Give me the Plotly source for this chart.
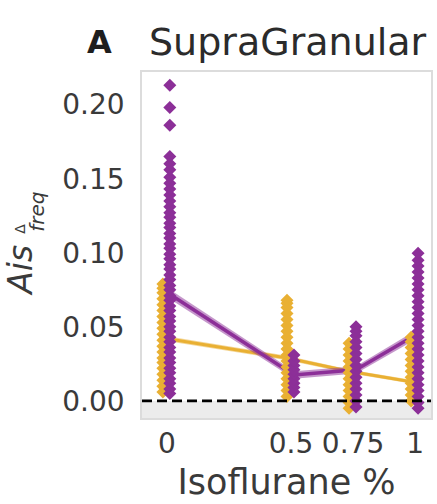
import plotly.graph_objects as go

# ---- data ----
iso_levels = [0, 0.5, 0.75, 1]
tick_text = ["0", "0.5", "0.75", "1"]
y_ticks = [0.0, 0.05, 0.10, 0.15, 0.20]
y_tick_text = ["0.00", "0.05", "0.10", "0.15", "0.20"]

# yellow series: individual values per isoflurane level
yellow_0 = [0.006, 0.010, 0.014, 0.018, 0.022, 0.026, 0.029, 0.033, 0.037, 0.041,
            0.045, 0.049, 0.053, 0.057, 0.061, 0.065, 0.069, 0.073, 0.076, 0.079]
yellow_05 = [0.003, 0.007, 0.011, 0.015, 0.019, 0.023, 0.027, 0.031, 0.035, 0.039,
             0.043, 0.047, 0.051, 0.055, 0.059, 0.063, 0.066, 0.068]
yellow_075 = [-0.005, -0.001, 0.003, 0.007, 0.011, 0.015, 0.019, 0.023, 0.027,
              0.031, 0.035, 0.039]
yellow_1 = [0.000, 0.004, 0.008, 0.012, 0.016, 0.020, 0.024, 0.028, 0.032, 0.036,
            0.040, 0.043]

# purple series
purple_0 = [0.005, 0.008, 0.012, 0.015, 0.019, 0.022, 0.026, 0.029, 0.033, 0.036,
            0.040, 0.043, 0.047, 0.050, 0.054, 0.057, 0.061, 0.064, 0.068, 0.071,
            0.075, 0.078, 0.082, 0.085, 0.089, 0.092, 0.096, 0.099, 0.103, 0.106,
            0.110, 0.113, 0.117, 0.120, 0.124, 0.127, 0.131, 0.135, 0.139, 0.143,
            0.147, 0.151, 0.156, 0.160, 0.165, 0.186, 0.198, 0.213]
purple_05 = [0.006, 0.009, 0.012, 0.015, 0.018, 0.021, 0.024, 0.027, 0.031]
purple_075 = [-0.004, 0.000, 0.004, 0.008, 0.012, 0.016, 0.020, 0.024, 0.028,
              0.032, 0.036, 0.040, 0.044, 0.047, 0.050]
purple_1 = [-0.005, -0.001, 0.003, 0.007, 0.011, 0.015, 0.019, 0.023, 0.027,
            0.031, 0.035, 0.039, 0.043, 0.047, 0.051, 0.055, 0.059, 0.063, 0.067,
            0.071, 0.075, 0.079, 0.083, 0.087, 0.091, 0.095, 0.0997]

# mean lines and confidence bands
yellow_mean = [0.0425, 0.029, 0.020, 0.013]
yellow_lo = [0.0408, 0.0275, 0.0187, 0.0117]
yellow_hi = [0.0442, 0.0305, 0.0213, 0.0143]
purple_mean = [0.072, 0.0175, 0.021, 0.0455]
purple_lo = [0.0688, 0.0150, 0.0185, 0.0425]
purple_hi = [0.0752, 0.0200, 0.0235, 0.0485]

YEL = "#E9B033"
PUR = "#8C2F98"
yellow_dx = -0.016
purple_dx = 0.012

fig = go.Figure()

# grey band under zero
fig.add_shape(type="rect", xref="paper", x0=0, x1=1, yref="y", y0=-0.0115, y1=0,
              fillcolor="#ececec", line_width=0, layer="below")


def band(mean, lo, hi, color, rgba, dx, lw):
    xs = [v + dx for v in iso_levels]
    fig.add_trace(go.Scatter(x=xs, y=hi, mode="lines", line=dict(width=0),
                             showlegend=False, hoverinfo="skip"))
    fig.add_trace(go.Scatter(x=xs, y=lo, mode="lines", line=dict(width=0),
                             fill="tonexty", fillcolor=rgba,
                             showlegend=False, hoverinfo="skip"))
    fig.add_trace(go.Scatter(x=xs, y=mean, mode="lines",
                             line=dict(color=color, width=lw), showlegend=False))


band(yellow_mean, yellow_lo, yellow_hi, YEL, "rgba(233,176,51,0.5)", yellow_dx, 3)
band(purple_mean, purple_lo, purple_hi, PUR, "rgba(140,47,152,0.5)", purple_dx, 3.5)


def strip(vals, level, dx, color):
    fig.add_trace(go.Scatter(x=[level + dx] * len(vals), y=vals, mode="markers",
                             marker=dict(symbol="diamond", size=10, color=color,
                                         line=dict(width=0)),
                             showlegend=False))


for vals, lvl in zip([yellow_0, yellow_05, yellow_075, yellow_1], iso_levels):
    strip(vals, lvl, yellow_dx, YEL)
for vals, lvl in zip([purple_0, purple_05, purple_075, purple_1], iso_levels):
    strip(vals, lvl, purple_dx, PUR)

# dashed zero line
fig.add_shape(type="line", xref="paper", x0=0, x1=1, yref="y", y0=0, y1=0,
              line=dict(color="black", width=2.8, dash="10px,5px"), layer="above")


def px_x(p):
    return (p - 142) / 291


def px_y(p):
    return (418 - p) / 346


fig.update_layout(
    width=437, height=504,
    margin=dict(l=142, r=4, t=72, b=86),
    plot_bgcolor="white", paper_bgcolor="white",
    font=dict(family="DejaVu Sans", color="#3a3a3a"),
    xaxis=dict(range=[-0.1, 1.064], tickvals=iso_levels, ticktext=tick_text,
               showgrid=False, zeroline=False, showline=True, mirror=True,
               linecolor="#dcdcdc", linewidth=1.5, ticks="",
               tickfont=dict(size=28, color="#3a3a3a"), ticklabelstandoff=0,
               title=dict(text="Isoflurane %", font=dict(size=35, color="#3a3a3a"),
                          standoff=10)),
    yaxis=dict(range=[-0.0115, 0.222], tickvals=y_ticks, ticktext=y_tick_text,
               showgrid=False, zeroline=False, showline=True, mirror=True,
               linecolor="#dcdcdc", linewidth=1.5, ticks="",
               tickfont=dict(size=28, color="#3a3a3a"), ticklabelstandoff=10),
    annotations=[
        dict(text="SupraGranular", xref="paper", yref="paper", x=0.505, y=1.0,
             yshift=30, showarrow=False, xanchor="center", yanchor="middle",
             font=dict(size=38, color="#2b2b2b")),
        dict(text="<b>A</b>", xref="paper", yref="paper", x=px_x(99), y=1.0,
             yshift=30, showarrow=False, xanchor="center", yanchor="middle",
             font=dict(size=32, color="#1e1e1e")),
        dict(text="<i>Ais</i>", xref="paper", yref="paper",
             x=px_x(19), y=px_y(270), textangle=-90,
             showarrow=False, xanchor="center", yanchor="middle",
             font=dict(size=33, color="#3a3a3a")),
        dict(text="<i>freq</i>", xref="paper", yref="paper",
             x=px_x(36), y=px_y(212), textangle=-90,
             showarrow=False, xanchor="center", yanchor="middle",
             font=dict(size=20, color="#3a3a3a")),
        dict(text="Δ", xref="paper", yref="paper",
             x=px_x(19), y=px_y(229), textangle=-90,
             showarrow=False, xanchor="center", yanchor="middle",
             font=dict(size=14, color="#3a3a3a")),
    ],
)

fig.write_html("out.html")
